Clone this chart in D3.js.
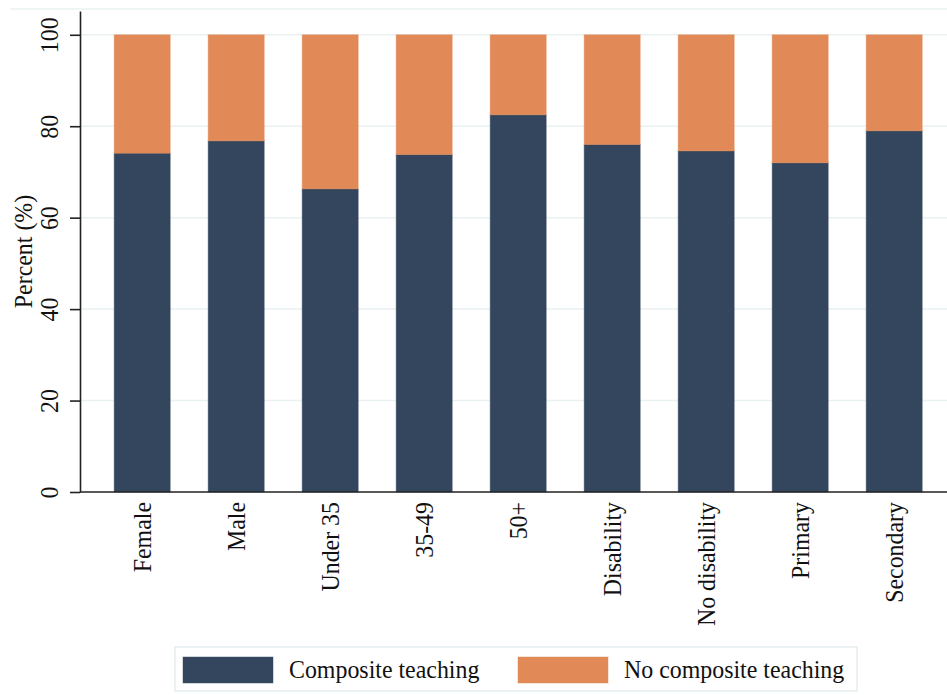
<!DOCTYPE html>
<html lang="en">
<head>
    <meta charset="UTF-8">
    <title>Composite teaching</title>
    <script src="https://cdn.jsdelivr.net/npm/d3@7"></script>
    <style>
        body { margin: 0; background: #fff; }
        text { font-family: "Liberation Serif", "Times New Roman", serif; fill: #111; }
    </style>
</head>
<body>
<div id="mainContent"></div>
<script>
    // values
    const categories = ["Female", "Male", "Under 35", "35-49", "50+", "Disability", "No disability", "Primary", "Secondary"];
    const composite = [74.1, 76.8, 66.3, 73.8, 82.5, 76.0, 74.6, 72.0, 79.0];
    const noComposite = [25.9, 23.2, 33.7, 26.2, 17.5, 24.0, 25.4, 28.0, 21.0];
    const yTicks = [0, 20, 40, 60, 80, 100];
    const seriesNames = ["Composite teaching", "No composite teaching"];

    const width = 947, height = 695;
    const plotLeft = 80, plotRight = 947;
    const fontSize = 23.9;
    const stretch = 1.08;

    const color = {
        "Composite teaching": "#34465e",
        "No composite teaching": "#e18a57"
    };

    const svg = d3.select("#mainContent")
        .append("svg")
        .attr("width", width)
        .attr("height", height);

    const xScale = d3.scaleBand()
        .domain(categories)
        .range([95.2, 941.2])
        .paddingInner(0.404)
        .paddingOuter(0.202);

    const yScale = d3.scaleLinear()
        .domain([0, 105.2])
        .range([492, 11]);

    // outer plot region edge
    svg.append("line")
        .attr("x1", 10).attr("x2", plotRight)
        .attr("y1", 9).attr("y2", 9)
        .attr("stroke", "#eaf1f2")
        .attr("stroke-width", 1.5);

    // gridlines
    svg.append("g")
        .selectAll("line")
        .data(yTicks.filter(d => d > 0))
        .enter().append("line")
        .attr("x1", plotLeft).attr("x2", plotRight)
        .attr("y1", d => yScale(d)).attr("y2", d => yScale(d))
        .attr("stroke", "#e9f1f3")
        .attr("stroke-width", 1.5);

    // stacked data
    const table = categories.map((c, i) => ({
        cat: c,
        "Composite teaching": composite[i],
        "No composite teaching": noComposite[i]
    }));
    const stacks = d3.stack().keys(seriesNames)(table);

    svg.append("g")
        .selectAll("g")
        .data(stacks).enter()
        .append("g")
        .attr("fill", d => color[d.key])
        .attr("stroke", d => color[d.key])
        .attr("stroke-opacity", 0.45)
        .selectAll("rect")
        .data(d => d).enter()
        .append("rect")
        .attr("x", d => xScale(d.data.cat))
        .attr("width", xScale.bandwidth())
        .attr("y", d => yScale(d[1]))
        .attr("height", d => yScale(d[0]) - yScale(d[1]));

    // y axis
    const yAxisGroup = svg.append("g")
        .attr("transform", "translate(" + plotLeft + ",0)")
        .call(d3.axisLeft(yScale).tickValues(yTicks).tickSize(10).tickSizeOuter(0));
    yAxisGroup.select(".domain").attr("stroke", "#222").attr("stroke-width", 1.6);
    yAxisGroup.selectAll(".tick line").attr("stroke", "#222").attr("stroke-width", 1.6);
    yAxisGroup.selectAll(".tick text")
        .attr("x", null).attr("dy", null)
        .attr("text-anchor", "middle")
        .attr("font-size", fontSize)
        .attr("transform", "translate(-22,0) rotate(-90) scale(1," + stretch + ")");

    // x axis
    const xAxisGroup = svg.append("g")
        .attr("transform", "translate(0," + yScale(0) + ")")
        .call(d3.axisBottom(xScale).tickSize(0));
    xAxisGroup.select(".domain").remove();
    xAxisGroup.append("line")
        .attr("x1", plotLeft).attr("x2", plotRight)
        .attr("stroke", "#222").attr("stroke-width", 1.6);
    xAxisGroup.selectAll(".tick text")
        .attr("y", null).attr("dy", null)
        .attr("text-anchor", "end")
        .attr("font-size", fontSize)
        .attr("transform", "translate(9,10) rotate(-90) scale(1," + stretch + ")");

    // y title
    svg.append("text")
        .text("Percent (%)")
        .attr("text-anchor", "middle")
        .attr("font-size", fontSize)
        .attr("transform", "translate(32," + ((yScale.range()[0] + yScale.range()[1]) / 2) + ") rotate(-90) scale(1," + stretch + ")");

    // legend
    const legend = svg.append("g");
    legend.append("rect")
        .attr("x", 175).attr("y", 647)
        .attr("width", 682).attr("height", 44)
        .attr("fill", "#fff")
        .attr("stroke", "#e6eef0")
        .attr("stroke-width", 1.5);
    const legendX = [183, 518];
    const items = legend.selectAll(".item")
        .data(seriesNames).enter()
        .append("g")
        .attr("class", "item")
        .attr("transform", (d, i) => "translate(" + legendX[i] + ",657)");
    items.append("rect")
        .attr("width", 90).attr("height", 26)
        .attr("fill", d => color[d])
        .attr("stroke", d => color[d])
        .attr("stroke-opacity", 0.45);
    items.append("text")
        .text(d => d)
        .attr("font-size", fontSize)
        .attr("transform", "translate(106,21) scale(1," + stretch + ")");
</script>
</body>
</html>
